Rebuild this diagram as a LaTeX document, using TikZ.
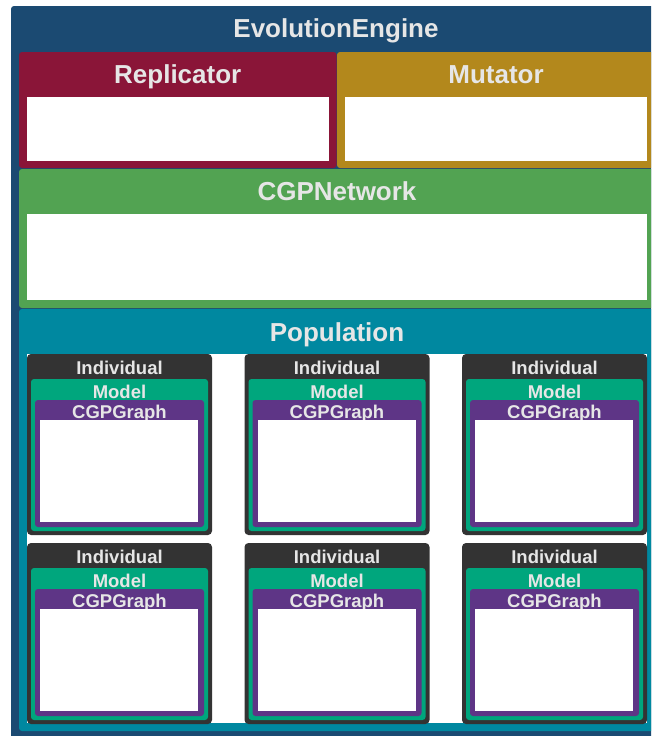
\documentclass[tikz,border=0pt]{standalone}
\usepackage{fontspec}
\setmainfont{Liberation Sans}
\usepackage{xcolor}
\definecolor{enginebg}{HTML}{1B4A72}
\definecolor{replbg}{HTML}{8A1538}
\definecolor{mutbg}{HTML}{B3881C}
\definecolor{netbg}{HTML}{52A352}
\definecolor{popbg}{HTML}{0088A0}
\definecolor{indbg}{HTML}{333333}
\definecolor{modelbg}{HTML}{00A67D}
\definecolor{graphbg}{HTML}{5E3586}
\definecolor{labelfg}{HTML}{E6E6E6}
\usetikzlibrary{positioning}

\begin{document}
\begin{tikzpicture}[
        x=1pt, y=-1pt,
        panel/.style={
            rectangle,
            rounded corners=3pt,
            anchor=north west,
            inner sep=0pt,
            outer sep=0pt
        },
        slot/.style={
            rectangle,
            fill=white,
            anchor=north west,
            inner sep=0pt,
            outer sep=0pt
        },
        bigtitle/.style={
            text=labelfg,
            font=\fontsize{26}{28}\selectfont\bfseries,
            inner sep=0pt,
            text height=18.6pt,
            text depth=0pt
        },
        smalltitle/.style={
            text=labelfg,
            font=\fontsize{18.5}{20}\selectfont\bfseries,
            inner sep=0pt,
            text height=13.2pt,
            text depth=0pt
        }
    ]

    \useasboundingbox (0,0) rectangle (651,736);
    \clip (0,0) rectangle (651,736);

    % Outer: EvolutionEngine
    \node[panel, fill=enginebg, minimum width=650pt, minimum height=733pt] (engine) at (11,6) {};
    \node[bigtitle] (engine_t) at ([yshift=-22.5pt]engine.north) {EvolutionEngine};

    % Replicator and Mutator
    \node[panel, fill=replbg, minimum width=317.5pt, minimum height=116pt] (repl) at (19,52) {};
    \node[bigtitle] (repl_t) at ([yshift=-22.5pt]repl.north) {Replicator};
    \node[slot, minimum width=302pt, minimum height=64pt] (repl_s) at (27,97) {};

    \node[panel, fill=mutbg, minimum width=318pt, minimum height=116pt] (mut) at (337,52) {};
    \node[bigtitle] (mut_t) at ([yshift=-22.5pt]mut.north) {Mutator};
    \node[slot, minimum width=302pt, minimum height=64pt] (mut_s) at (345,97) {};

    % CGPNetwork
    \node[panel, fill=netbg, minimum width=636pt, minimum height=139pt] (net) at (19,169) {};
    \node[bigtitle] (net_t) at ([yshift=-22.5pt]net.north) {CGPNetwork};
    \node[slot, minimum width=620pt, minimum height=86pt] (net_s) at (27,214) {};

    % Population
    \node[panel, fill=popbg, minimum width=636pt, minimum height=422pt] (pop) at (19,309) {};
    \node[bigtitle] (pop_t) at ([yshift=-23pt]pop.north) {Population};
    \node[slot, minimum width=620pt, minimum height=369pt] (pop_s) at (27,354) {};

    % Individuals: Model > CGPGraph
    \foreach \row in {0,1} {
        \foreach \col in {0,1,2} {
            \node[panel, rounded corners=4pt, fill=indbg, minimum width=185pt, minimum height=181pt]
                (ind\row\col) at (27+217.5*\col, 354+189*\row) {};
            \node[smalltitle] at ([yshift=-14pt]ind\row\col.north) {Individual};
            \node[panel, fill=modelbg, minimum width=177pt, minimum height=152pt]
                (model\row\col) at ([xshift=4pt, yshift=-25pt]ind\row\col.north west) {};
            \node[smalltitle] at ([yshift=-12.5pt]model\row\col.north) {Model};
            \node[panel, fill=graphbg, minimum width=169pt, minimum height=127pt]
                (graph\row\col) at ([xshift=4pt, yshift=-21pt]model\row\col.north west) {};
            \node[smalltitle] at ([yshift=-11.5pt]graph\row\col.north) {CGPGraph};
            \node[slot, minimum width=158pt, minimum height=102pt]
                (graph\row\col_s) at ([xshift=5pt, yshift=-20pt]graph\row\col.north west) {};
        }
    }

\end{tikzpicture}
\end{document}
